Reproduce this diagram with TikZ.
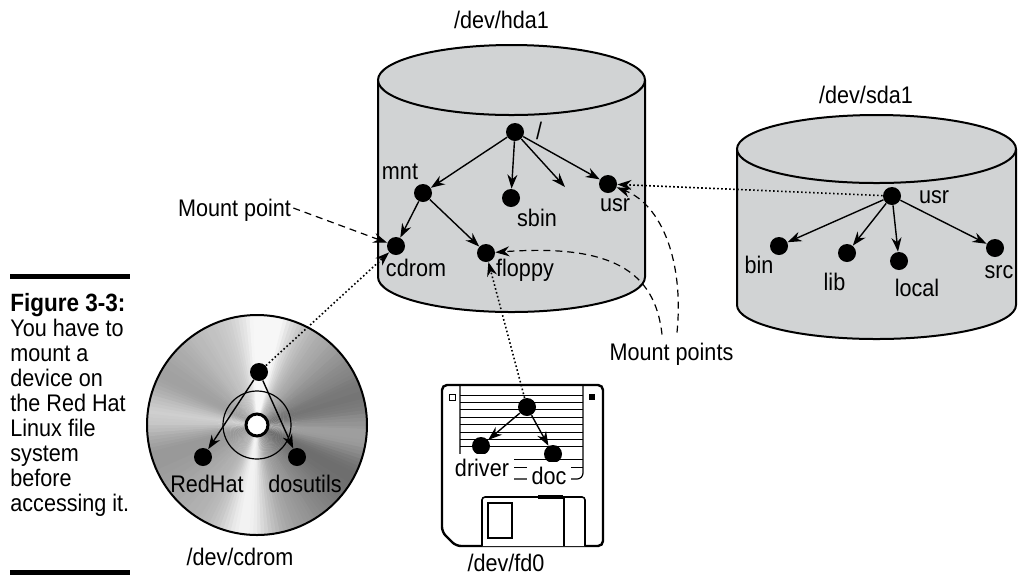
\documentclass[tikz,border=0pt]{standalone}
\usepackage{fontspec}
\setmainfont{Liberation Sans}[FakeStretch=0.9]
\usetikzlibrary{arrows.meta,positioning}
\definecolor{diskgray}{HTML}{D1D3D4}

\begin{document}
\begin{tikzpicture}[x=0.5pt,y=-0.5pt,
  dot/.style={circle,fill=black,inner sep=0pt,minimum size=9pt},
  lbl/.style={inner sep=1pt,text height=8.6pt,text depth=0pt},
  tree/.style={line width=0.7pt,-{Stealth[length=7pt,width=5pt]}},
  link/.style={line width=0.8pt,dash pattern=on 0.8pt off 1.2pt,-{Stealth[length=7pt,width=5pt]}},
  mount/.style={line width=0.6pt,dash pattern=on 3.5pt off 2.5pt,-{Stealth[length=7pt,width=5pt]}}]
\tikzstyle{every node}+=[font=\fontsize{12}{12.5}\selectfont]
\useasboundingbox (0,0) rectangle (1018,575);

% caption
\draw[line width=2.5pt] (10,276) -- (130,276);
\draw[line width=2.5pt] (10,572) -- (130,572);
\node[anchor=base west,inner sep=0pt,font=\fontsize{12.5}{12.5}\selectfont\bfseries] (fig) at (10,311) {Figure 3-3:};
\foreach \txt [count=\i] in {You have to,mount a,device on,the Red Hat,Linux file,system,before,accessing it.}
  \node[anchor=base west,inner sep=0pt] (cap\i) at (10,311+25*\i) {\txt};

% disk /dev/hda1
\fill[diskgray] (378,80) -- (378,277) arc[start angle=180,end angle=0,x radius=133.5,y radius=35] -- (645,80) -- cycle;
\draw[line width=1pt] (378,80) -- (378,277) arc[start angle=180,end angle=0,x radius=133.5,y radius=35] -- (645,80);
\draw[line width=1pt,fill=diskgray] (511.5,80) ellipse[x radius=133.5,y radius=35];
\node[lbl] (hda) at (501.5,20) {/dev/hda1};

% disk /dev/sda1
\fill[diskgray] (737,149) -- (737,305) arc[start angle=180,end angle=0,x radius=139.5,y radius=34] -- (1016,149) -- cycle;
\draw[line width=1pt] (737,149) -- (737,305) arc[start angle=180,end angle=0,x radius=139.5,y radius=34] -- (1016,149);
\draw[line width=1pt,fill=diskgray] (876.5,149) ellipse[x radius=139.5,y radius=34];
\node[lbl] (sda) at (866,95) {/dev/sda1};

% cd
\coordinate (cd) at (257,425);
\foreach \t in {0,2,...,358}{
  \pgfmathtruncatemacro\lev{min(97,62+14*cos(2*(\t+85))+10*cos(\t+150)+24*((cos(2*(\t+85)))^2)^4)}
  \fill[white!\lev!black] (cd) -- ++(\t:110) arc[start angle=\t,end angle=\t+2.6,radius=110] -- cycle;
}
\draw[line width=1pt] (cd) circle (110);
\draw[line width=0.6pt] (cd) circle (34);
\draw[line width=1.5pt,fill=white] (cd) circle (11);
\node[lbl] (cdname) at (240,556.5) {/dev/cdrom};

% floppy
\draw[line width=1.2pt,fill=white,rounded corners=2.5pt] (442,532) -- (442,385) -- (603,385) -- (603,546) -- (456,546) -- cycle;
\foreach \k in {0,...,7}
  \draw[line width=0.5pt] (460,395+7.4*\k) -- (583,395+7.4*\k);
\draw[line width=0.5pt] (460,459) -- (583,459);
\draw[line width=0.5pt] (460,467) -- (583,467);
\draw[line width=0.6pt,rounded corners=3pt] (460,385) -- (460,479) -- (583,479) -- (583,385);
\draw[line width=0.5pt] (449,394) rectangle (455,400);
\fill (589,394) rectangle (595,400);
\draw[line width=0.8pt,fill=white,rounded corners=1.5pt] (482,546) -- (482,497) -- (585,497) -- (585,546);
\draw[line width=0.8pt] (564,497) -- (564,546);
\draw[line width=0.8pt] (488,503) rectangle (512,538);
\draw[line width=1.6pt] (538,497) -- (563,497);
\node[lbl] (fdname) at (506,563) {/dev/fd0};

% tree on /dev/hda1
\node[dot] (root) at (515,132) {};
\node[lbl] (rootl) at (539,131) {/};
\node[dot] (mnt) at (423,193) {};
\node[lbl] (mntl) at (400,171) {mnt};
\node[dot] (sbin) at (511,198) {};
\node[lbl] (sbinl) at (537,218) {sbin};
\coordinate (hmore) at (565,187);
\node[dot] (husr) at (608,184) {};
\node[lbl] (husrl) at (615,203) {usr};
\node[dot] (cdrom) at (396,246) {};
\node[lbl] (cdroml) at (416,267.5) {cdrom};
\node[dot] (floppy) at (486,253) {};
\node[lbl] (floppyl) at (525,268) {floppy};
\foreach \n in {mnt,sbin,hmore,husr}
  \draw[tree] (root) -- (\n);
\draw[tree] (mnt) -- (cdrom);
\draw[tree] (mnt) -- (floppy);

% tree on /dev/sda1
\node[dot] (susr) at (892,196) {};
\node[lbl] (susrl) at (934,194.5) {usr};
\node[dot] (bin) at (779,246) {};
\node[lbl] (binl) at (759,265) {bin};
\node[dot] (lib) at (847,253) {};
\node[lbl] (libl) at (834.5,281.5) {lib};
\node[dot] (local) at (899,261) {};
\node[lbl] (locall) at (917,288) {local};
\node[dot] (src) at (995,248) {};
\node[lbl] (srcl) at (999,269.5) {src};
\foreach \n in {bin,lib,local,src}
  \draw[tree] (susr) -- (\n);

% tree on the cd
\node[dot] (cdroot) at (259,372) {};
\node[dot] (redhat) at (203,457) {};
\node[lbl] (redhatl) at (207,483.5) {RedHat};
\node[dot] (dosutils) at (297,457) {};
\node[lbl] (dosutilsl) at (305,483.5) {dosutils};
\draw[tree] (cdroot) -- (redhat);
\draw[tree] (cdroot) -- (dosutils);

% tree on the floppy
\node[dot] (fdroot) at (527,407) {};
\node[dot] (driver) at (481,446) {};
\node[lbl,fill=white,inner sep=2.5pt] (driverl) at (482,467.5) {driver};
\node[dot] (doc) at (553,454) {};
\node[lbl,fill=white,inner sep=2.5pt] (docl) at (549,475.5) {doc};
\draw[tree] (fdroot) -- (driver);
\draw[tree] (fdroot) -- (doc);

% mounts
\draw[link] (cdroot) -- (cdrom);
\draw[link] (fdroot) -- (floppy);
\draw[link] (susr) -- (husr);
\node[lbl] (mp) at (234.5,208) {Mount point};
\node[lbl] (mps) at (671.5,351.5) {Mount points};
\draw[mount] (mp.east) -- (cdrom);
\draw[mount] ([shift={(-4.75pt,3pt)}]mps.north) .. controls (655,270) and (610,244) .. (floppy);
\draw[mount] ([shift={(2.75pt,4pt)}]mps.north) .. controls (684,262) and (662,205) .. (husr);
\end{tikzpicture}
\end{document}
